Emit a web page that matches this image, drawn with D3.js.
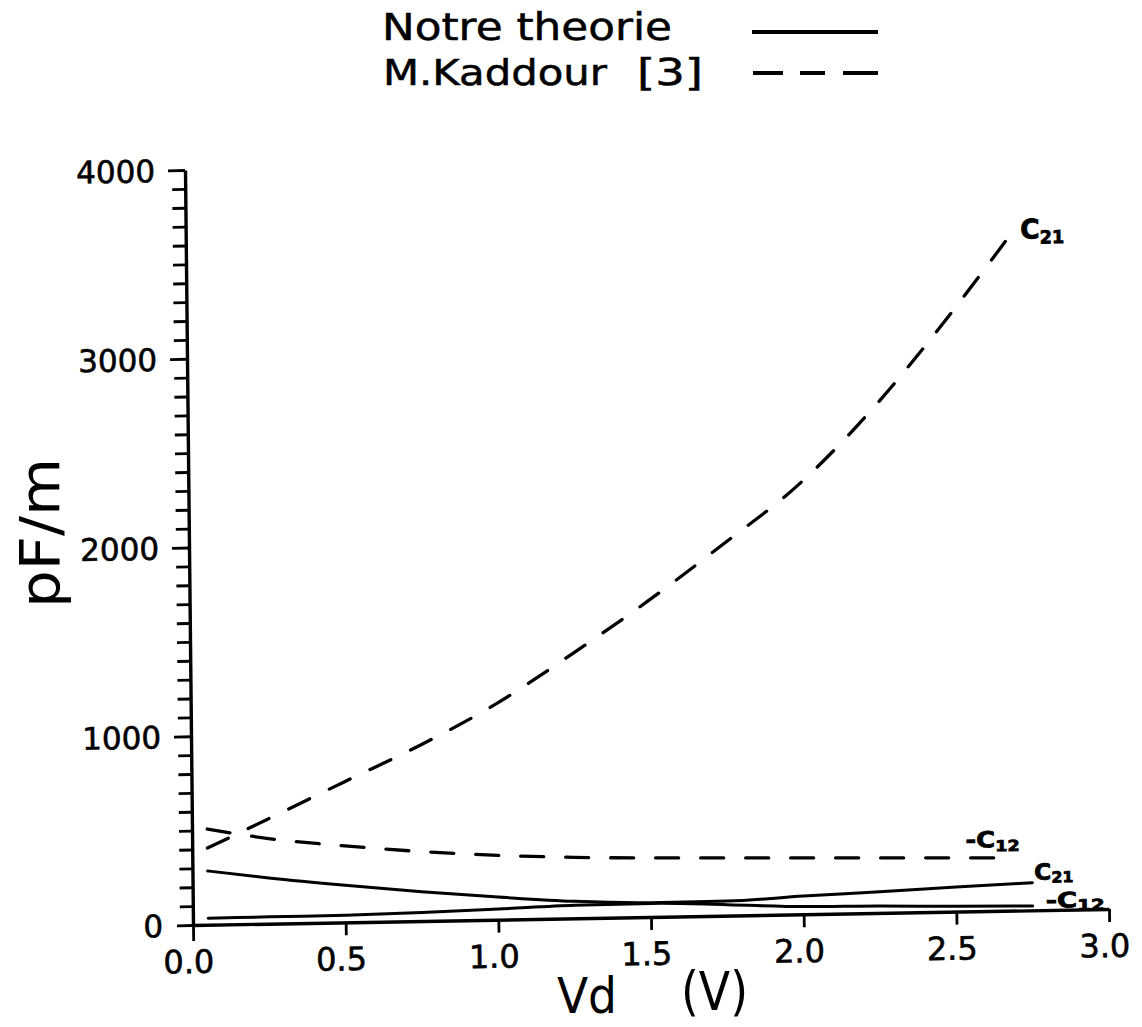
<!DOCTYPE html>
<html>
<head>
<meta charset="utf-8">
<script src="https://cdn.jsdelivr.net/npm/d3@7"></script>
<style>
  body { margin: 0; background: #fff; }
  svg { display: block; }
  text { font-family: "DejaVu Sans", sans-serif; fill: #000; }
</style>
</head>
<body>
<svg id="chart" width="1142" height="1027"></svg>
<script>
// Capacitances (pF/m) versus drain voltage Vd (V)
const theoryV     = [0.05, 0.25, 0.5, 0.75, 1.0, 1.25, 1.5, 1.75, 2.0, 2.25, 2.5, 2.75];
const theoryC21   = [285, 242, 196, 155, 120, 90, 76, 77, 97, 112, 130, 146];
const theoryC12   = [34, 36, 38, 45, 56, 69, 72, 58, 41, 37, 28, 23];
const kaddourV    = [0.05, 0.25, 0.5, 0.75, 1.0, 1.25, 1.5, 1.75, 2.0, 2.25, 2.5, 2.7];
const kaddourC21  = [406, 555, 744, 931, 1143, 1400, 1673, 1969, 2279, 2684, 3164, 3580];
const kaddourC12V = [0.05, 0.25, 0.5, 0.75, 1.0, 1.25, 1.5, 1.75, 2.0, 2.25, 2.5, 2.67];
const kaddourC12  = [507, 451, 405, 368, 341, 323, 313, 306, 299, 292, 285, 280];

const xTickValues  = [0, 0.5, 1, 1.5, 2, 2.5, 3];
const xTickLabels  = ["0.0", "0.5", "1.0", "1.5", "2.0", "2.5", "3.0"];
const yLabelValues = [0, 1000, 2000, 3000, 4000];
const yMinorTicks  = d3.range(0, 4001, 100);

const legendLabels = ["Notre theorie", "M.Kaddour", "[3]"];

const svg = d3.select("#chart");
const W = 916, H = 755;
const x = d3.scaleLinear().domain([0, 3]).range([0, W]);
const y = d3.scaleLinear().domain([0, 4000]).range([0, -H]);

// plotting frame, slightly skewed like the plotter sheet
const plot = svg.append("g")
  .attr("transform", "matrix(1,-0.0175,0.0106,1,193,925)");

// ---- y axis ----
const yAxis = d3.axisLeft(y)
  .tickValues(yMinorTicks)
  .tickSize(13)
  .tickSizeOuter(0)
  .tickFormat(d => yLabelValues.includes(d) ? d : "");
const gy = plot.append("g").call(yAxis);
gy.attr("font-family", null).attr("font-size", null);
gy.select(".domain").attr("stroke", "#000").attr("stroke-width", 3.4);
gy.selectAll(".tick line")
  .attr("stroke", "#000").attr("stroke-width", 2.8)
  .attr("x2", d => d === 0 ? -16 : (d % 1000 === 0 ? -17 : -13));
gy.selectAll(".tick text")
  .attr("x", -30)
  .attr("font-size", 31)
  .attr("stroke", "#000").attr("stroke-width", 0.6)
  .attr("dy", "0.36em");

// ---- x axis ----
const xAxis = d3.axisBottom(x)
  .tickValues(xTickValues)
  .tickSize(13)
  .tickSizeOuter(0)
  .tickFormat((d, i) => xTickLabels[i]);
const gx = plot.append("g").call(xAxis);
gx.attr("font-family", null).attr("font-size", null);
gx.select(".domain").attr("stroke", "#000").attr("stroke-width", 3.4);
gx.selectAll(".tick line")
  .attr("stroke", "#000").attr("stroke-width", 2.8)
  .attr("y2", d => d === 0 ? 16 : 13);
gx.selectAll(".tick text")
  .attr("y", 48).attr("dy", 0).attr("dx", -5)
  .attr("font-size", 32)
  .attr("stroke", "#000").attr("stroke-width", 0.6);

// ---- curves ----
const line = d3.line()
  .x(d => x(d[0]))
  .y(d => y(d[1]))
  .curve(d3.curveMonotoneX);

const series = [
  { v: kaddourV,    c: kaddourC21, dashed: true,  sub: "21", minus: false, dx: 10,  dy: 4,   big: 27, small: 18, shift: 0.28, len: 44 },
  { v: kaddourC12V, c: kaddourC12, dashed: true,  sub: "12", minus: true,  dx: -42, dy: -11, big: 22, small: 15, shift: 0.28, len: 54 },
  { v: theoryV,     c: theoryC21,  dashed: false, sub: "21", minus: false, dx: 2,   dy: -3,  big: 22, small: 15, shift: 0.2,  len: 39 },
  { v: theoryV,     c: theoryC12,  dashed: false, sub: "12", minus: true,  dx: 13,  dy: 2,   big: 21, small: 15, shift: 0.2,  len: 59 }
];

series.forEach(s => {
  const pts = s.v.map((v, i) => [v, s.c[i]]);
  plot.append("path")
    .datum(pts)
    .attr("d", line)
    .attr("fill", "none")
    .attr("stroke", "#000")
    .attr("stroke-width", s.dashed ? 3.3 : 3)
    .attr("stroke-linecap", "round")
    .attr("stroke-dasharray", s.dashed ? "23 22" : null);

  const last = pts[pts.length - 1];
  const t = plot.append("text")
    .attr("x", x(last[0]) + s.dx)
    .attr("y", y(last[1]) + s.dy)
    .attr("font-weight", "bold")
    .attr("font-size", s.big)
    .attr("stroke", "#000").attr("stroke-width", 0.8)
    .attr("textLength", s.len)
    .attr("lengthAdjust", "spacingAndGlyphs");
  t.append("tspan").text((s.minus ? "-" : "") + "C");
  t.append("tspan").attr("font-size", s.small).attr("dy", s.small * s.shift).text(s.sub);
});

// ---- axis titles ----
svg.append("text")
  .attr("x", 557).attr("y", 1013)
  .attr("font-size", 49)
  .attr("textLength", 60).attr("lengthAdjust", "spacingAndGlyphs")
  .text("Vd");
svg.append("text")
  .attr("x", 681).attr("y", 1010)
  .attr("font-size", 54)
  .attr("textLength", 67).attr("lengthAdjust", "spacingAndGlyphs")
  .text("(V)");
svg.append("text")
  .attr("transform", "translate(59,533) rotate(-90)")
  .attr("text-anchor", "middle")
  .attr("font-size", 55)
  .attr("textLength", 150).attr("lengthAdjust", "spacingAndGlyphs")
  .text("pF/m");

// ---- legend ----
svg.append("text")
  .attr("x", 382).attr("y", 40)
  .attr("font-size", 37)
  .attr("stroke", "#000").attr("stroke-width", 0.5)
  .attr("textLength", 290).attr("lengthAdjust", "spacingAndGlyphs")
  .text(legendLabels[0]);
svg.append("text")
  .attr("x", 383).attr("y", 85)
  .attr("font-size", 36)
  .attr("stroke", "#000").attr("stroke-width", 0.5)
  .attr("textLength", 224).attr("lengthAdjust", "spacingAndGlyphs")
  .text(legendLabels[1]);
svg.append("text")
  .attr("x", 637).attr("y", 85)
  .attr("font-size", 38)
  .attr("stroke", "#000").attr("stroke-width", 0.5)
  .attr("textLength", 66).attr("lengthAdjust", "spacingAndGlyphs")
  .text(legendLabels[2]);
svg.append("line")
  .attr("x1", 752).attr("x2", 878).attr("y1", 32).attr("y2", 32)
  .attr("stroke", "#000").attr("stroke-width", 3.8);
svg.append("line")
  .attr("x1", 753).attr("x2", 878).attr("y1", 73).attr("y2", 73)
  .attr("stroke", "#000").attr("stroke-width", 3.8)
  .attr("stroke-dasharray", "30 17 25 18 35");
</script>
</body>
</html>
